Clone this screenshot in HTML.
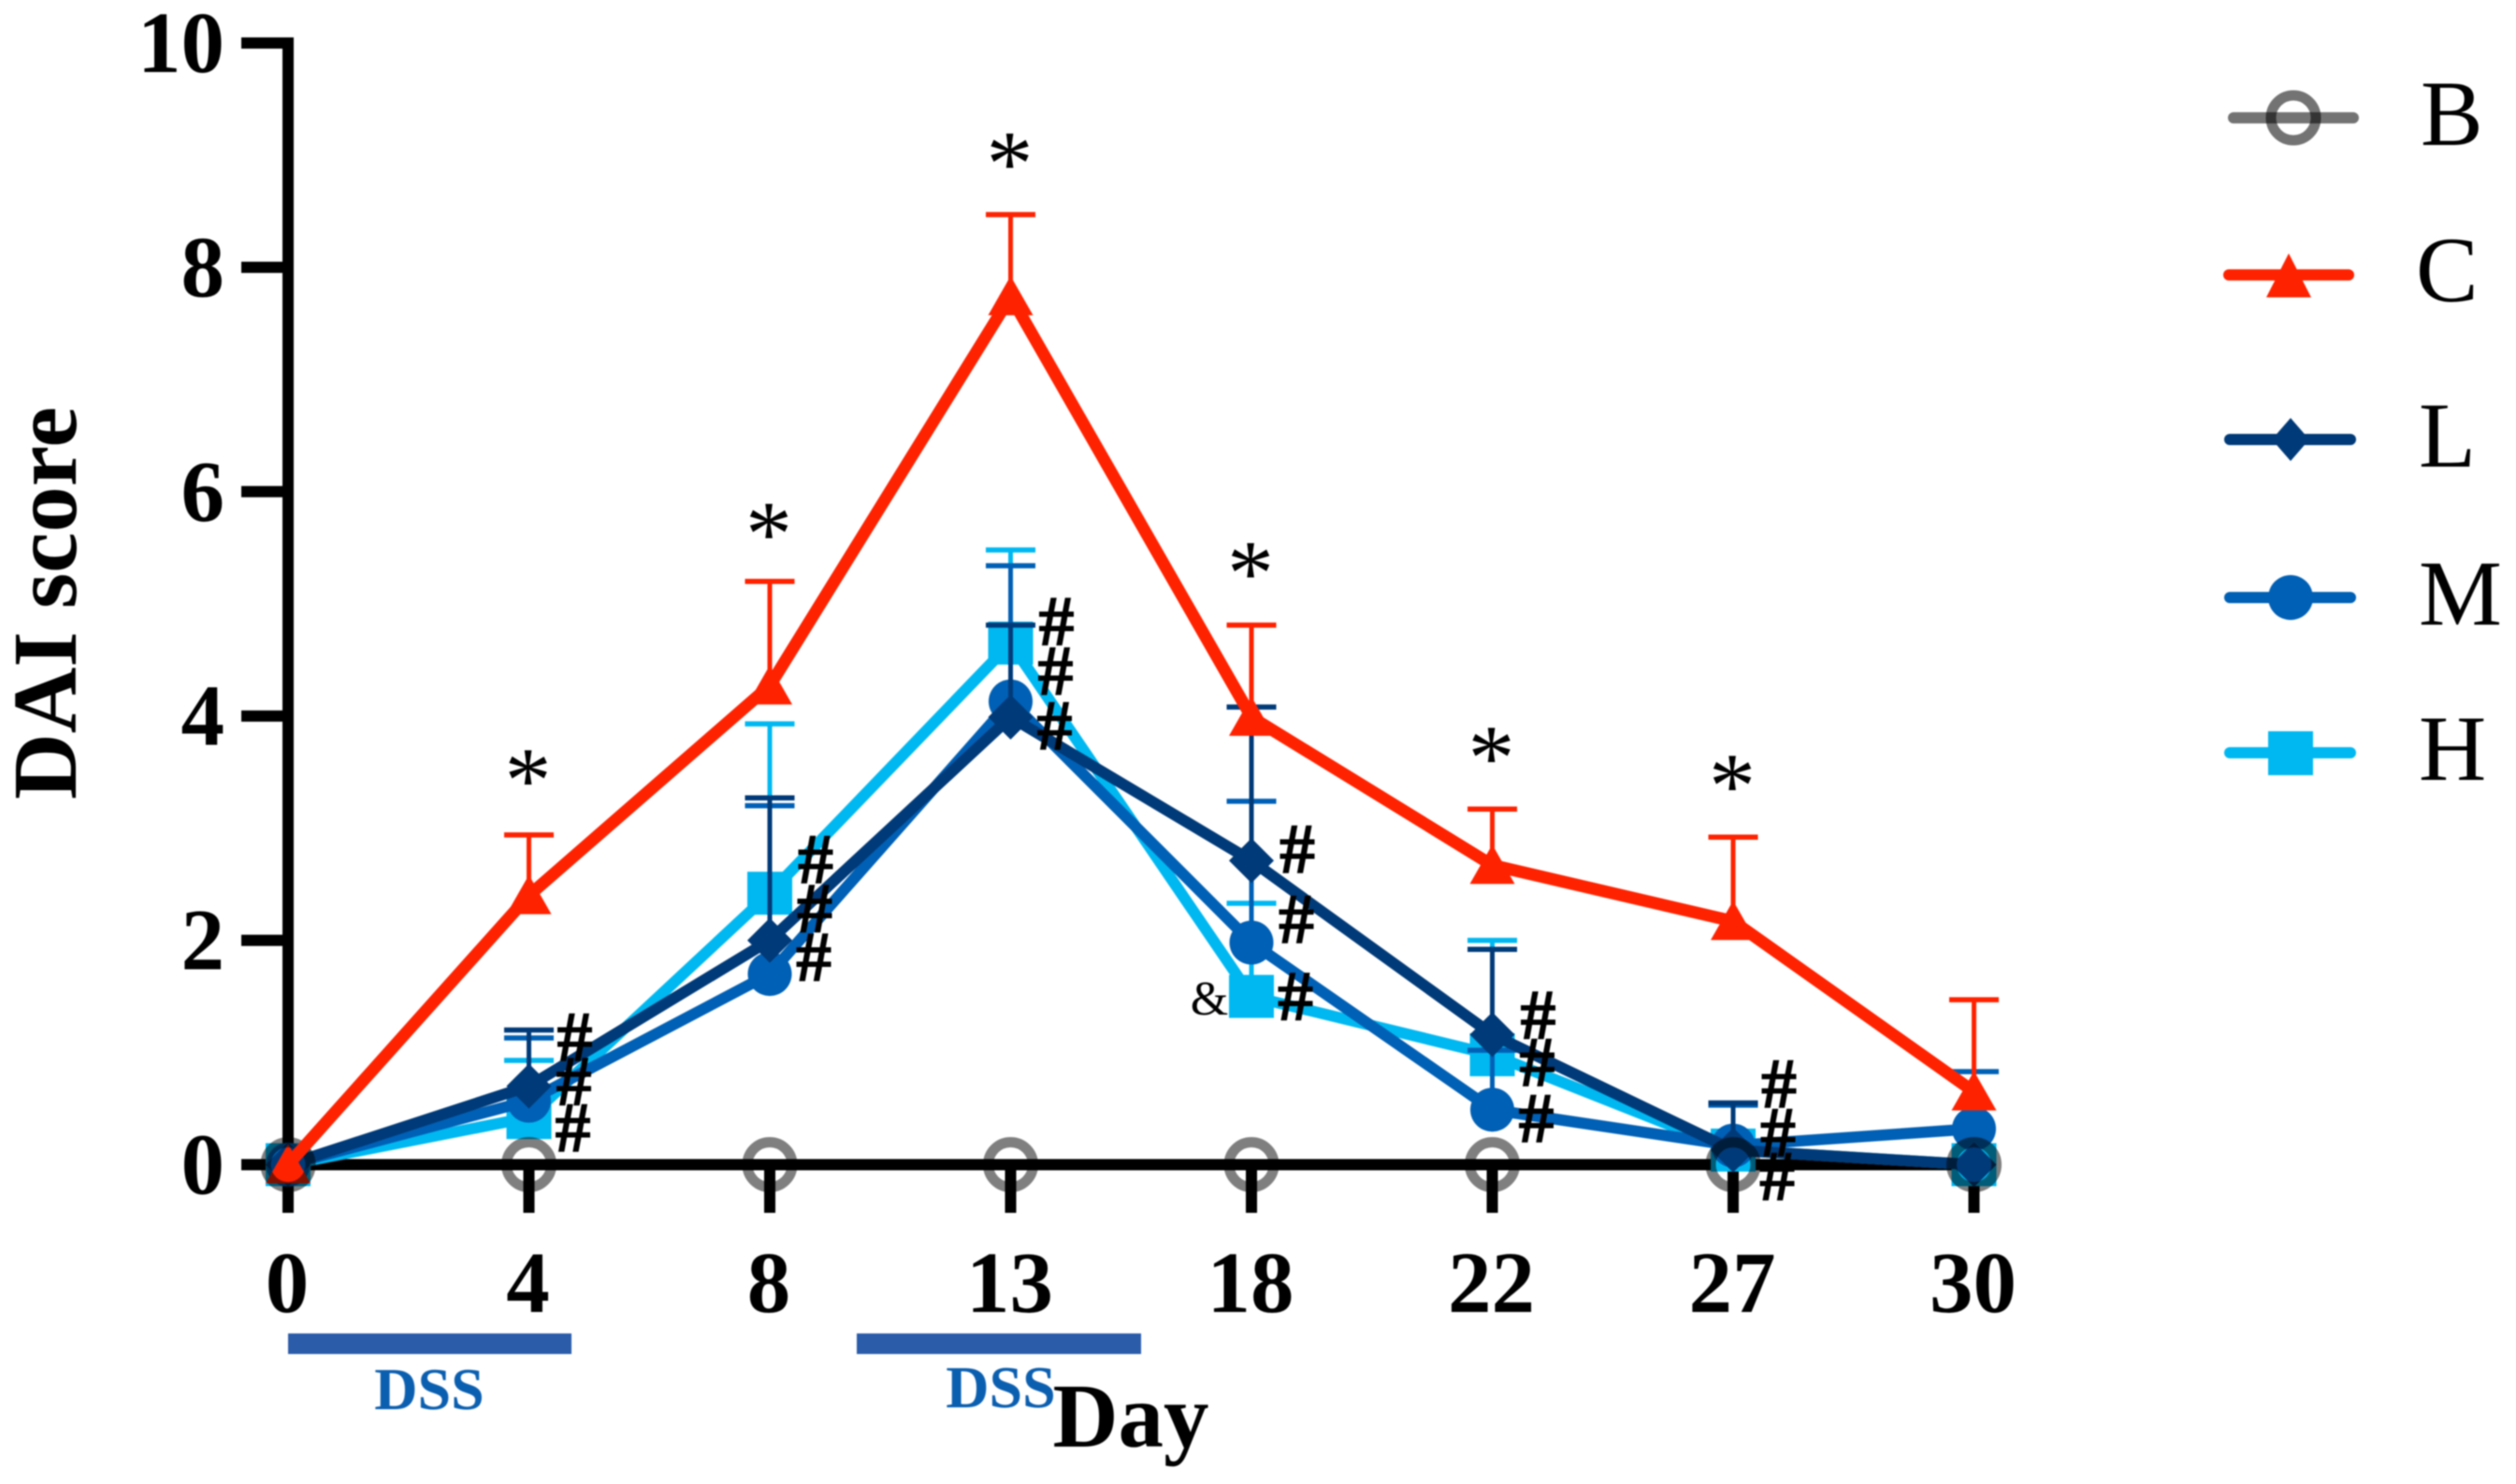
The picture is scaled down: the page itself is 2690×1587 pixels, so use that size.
<!DOCTYPE html>
<html lang="en">
<head>
<meta charset="utf-8">
<title>DAI score chart</title>
<style>
html,body{margin:0;padding:0;background:#fff;width:2690px;height:1587px;overflow:hidden}
svg{display:block;filter:blur(0.7px)}
text{font-family:"Liberation Serif","Times New Roman",serif}
</style>
</head>
<body>
<svg id="chart" xmlns="http://www.w3.org/2000/svg" width="2690" height="1587" viewBox="0 0 2690 1587">
  <rect x="0" y="0" width="2690" height="1587" fill="#ffffff"/>
  <g id="axes"></g>
  <g id="series"></g>
  <g id="annotations"></g>
  <text transform="translate(81 645) rotate(-90)" text-anchor="middle" font-size="98" font-weight="bold" fill="#000">DAI score</text>
  <text x="1209" y="1547" text-anchor="middle" font-size="97" font-weight="bold" fill="#000">Day</text>
  <rect x="308" y="1426" width="303" height="22" fill="#2a5caa"/>
  <rect x="916" y="1426" width="304" height="22" fill="#2a5caa"/>
  <text x="459" y="1507" text-anchor="middle" font-size="64" font-weight="bold" fill="#0b5fb0">DSS</text>
  <text x="1070" y="1505" text-anchor="middle" font-size="64" font-weight="bold" fill="#0b5fb0">DSS</text>
  <g>
    <g>
      <line x1="2388" y1="126" x2="2516" y2="126" stroke="#000" stroke-opacity="0.55" stroke-width="12" stroke-linecap="round"/>
      <circle cx="2452" cy="126" r="24" fill="none" stroke="#000" stroke-opacity="0.55" stroke-width="11"/>
      <text x="2588" y="155" font-size="100" fill="#000">B</text>
    </g>
    <g>
      <line x1="2383" y1="294" x2="2511" y2="294" stroke="#ff2200" stroke-width="12" stroke-linecap="round"/>
      <polygon points="2447,271 2471,318 2423,318" fill="#ff2200"/>
      <text x="2583" y="322" font-size="100" fill="#000">C</text>
    </g>
    <g>
      <line x1="2384" y1="470" x2="2513" y2="470" stroke="#003a78" stroke-width="12" stroke-linecap="round"/>
      <polygon points="2449,447 2469,470 2449,493 2429,470" fill="#003a78"/>
      <text x="2586" y="499" font-size="100" fill="#000">L</text>
    </g>
    <g>
      <line x1="2384" y1="639" x2="2513" y2="639" stroke="#0060b5" stroke-width="12" stroke-linecap="round"/>
      <circle cx="2449" cy="639" r="24" fill="#0060b5"/>
      <text x="2586" y="668" font-size="100" fill="#000">M</text>
    </g>
    <g>
      <line x1="2384" y1="805" x2="2513" y2="805" stroke="#00b8f1" stroke-width="12" stroke-linecap="round"/>
      <rect x="2425" y="782" width="48" height="47" fill="#00b8f1"/>
      <text x="2586" y="834" font-size="100" fill="#000">H</text>
    </g>
  </g>
</svg>
<script>
var dayLabels = ['0', '4', '8', '13', '18', '22', '27', '30'];
var yTickValues = [0, 2, 4, 6, 8, 10];

var valuesB = [0, 0, 0, 0, 0, 0, 0, 0];
var valuesC = [0, 2.4, 4.27, 7.74, 3.99, 2.67, 2.17, 0.65];
var valuesL = [0, 0.7, 2.0, 3.99, 2.71, 1.16, 0.13, 0];
var valuesM = [0, 0.57, 1.7, 4.13, 1.98, 0.49, 0.17, 0.32];
var valuesH = [0, 0.42, 2.42, 4.65, 1.5, 0.98, 0.13, 0];

var errTopC = [0, 2.94, 5.2, 8.47, 4.81, 3.17, 2.92, 1.47];
var errTopL = [0, 1.2, 3.27, 4.81, 4.08, 1.92, 0.55, 0];
var errTopM = [0, 1.13, 3.2, 5.34, 3.24, 1.02, 0.53, 0.83];
var errTopH = [0, 0.93, 3.93, 5.48, 2.33, 2.0, 0.2, 0];

var asteriskDays = ['4', '8', '13', '18', '22', '27'];
var asteriskLevels = [3.5, 5.7, 9.0, 5.35, 3.7, 3.45];

var hashDays = ['4', '8', '13', '18', '22', '27'];
var hashTopLevels = [1.125, 2.71, 4.83, 2.8, 1.32, 0.71];
var hashMidLevels = [0.73, 2.27, 4.39, 2.175, 0.9, 0.275];
var hashLowLevels = [0.317, 1.84, 3.9, 1.49, 0.4, -0.117];

var ampersandDay = '18';
var ampersandLevel = 1.49;

var NS = 'http://www.w3.org/2000/svg';
var axesG = document.getElementById('axes');
var seriesG = document.getElementById('series');
var annG = document.getElementById('annotations');

function xAt(i) { return 308 + i * 257.5; }
function xOfDay(d) { return xAt(dayLabels.indexOf(d)); }
function yAt(v) { return 1245.5 - v * 119.95; }

function make(tag, attrs, parent) {
  var el = document.createElementNS(NS, tag);
  for (var k in attrs) el.setAttribute(k, attrs[k]);
  parent.appendChild(el);
  return el;
}

/* axes */
var el;
el = make('line', {x1: 308, y1: yAt(10) - 6, x2: 308, y2: yAt(0), stroke: '#000', 'stroke-width': 12}, axesG);


el = make('line', {x1: 258, y1: yAt(0), x2: 2116, y2: yAt(0), stroke: '#000', 'stroke-width': 12}, axesG);



yTickValues.forEach(function (v) {
  var t = make('line', {x1: 258, y1: yAt(v), x2: 308, y2: yAt(v), stroke: '#000', 'stroke-width': 12}, axesG);
  
  
  var l = make('text', {x: 240, y: yAt(v) + 31, 'text-anchor': 'end', 'font-size': 93, 'font-weight': 'bold', fill: '#000'}, axesG);
  l.textContent = String(v);
  
  
});

dayLabels.forEach(function (d, i) {
  var t = make('line', {x1: xAt(i), y1: yAt(0), x2: xAt(i), y2: 1297, stroke: '#000', 'stroke-width': 12}, axesG);
  
  
  var l = make('text', {x: xAt(i) - 1, y: 1403, 'text-anchor': 'middle', 'font-size': 93, 'font-weight': 'bold', fill: '#000'}, axesG);
  l.textContent = d;
  
  
});

/* series helpers */
function drawErrors(values, tops, color, key) {
  values.forEach(function (v, i) {
    if (tops[i] <= v) return;
    var stem = make('line', {x1: xAt(i), y1: yAt(v), x2: xAt(i), y2: yAt(tops[i]), stroke: color, 'stroke-width': 5}, seriesG);
    
    
    var cap = make('line', {x1: xAt(i) - 26.5, y1: yAt(tops[i]), x2: xAt(i) + 26.5, y2: yAt(tops[i]), stroke: color, 'stroke-width': 5.5}, seriesG);
    
    
  });
}
function drawLine(values, color, key, width) {
  var pts = values.map(function (v, i) { return xAt(i) + ',' + yAt(v); }).join(' ');
  var p = make('polyline', {points: pts, fill: 'none', stroke: color, 'stroke-width': width, 'stroke-linejoin': 'miter', 'stroke-linecap': 'round'}, seriesG);
  
  
}
function drawMarkers(values, key, shapeFn) {
  values.forEach(function (v, i) {
    var m = shapeFn(xAt(i), yAt(v));
    
    
  });
}

/* H */
drawErrors(valuesH, errTopH, '#00b8f1', 'h');
drawLine(valuesH, '#00b8f1', 'h', 12);
drawMarkers(valuesH, 'h', function (x, y) {
  return make('rect', {x: x - 24, y: y - 23, width: 48, height: 46, fill: '#00b8f1'}, seriesG);
});
/* M */
drawErrors(valuesM, errTopM, '#0060b5', 'm');
drawLine(valuesM, '#0060b5', 'm', 12);
drawMarkers(valuesM, 'm', function (x, y) {
  return make('circle', {cx: x, cy: y, r: 23.5, fill: '#0060b5'}, seriesG);
});
/* L */
drawErrors(valuesL, errTopL, '#003a78', 'l');
drawLine(valuesL, '#003a78', 'l', 12);
drawMarkers(valuesL, 'l', function (x, y) {
  return make('polygon', {points: (x) + ',' + (y - 24) + ' ' + (x + 24) + ',' + y + ' ' + x + ',' + (y + 24) + ' ' + (x - 24) + ',' + y, fill: '#003a78'}, seriesG);
});
/* C markers and error bars */
drawErrors(valuesC, errTopC, '#ff2200', 'c');
drawMarkers(valuesC, 'c', function (x, y) {
  return make('polygon', {points: x + ',' + (y - 22) + ' ' + (x + 24) + ',' + (y + 20) + ' ' + (x - 24) + ',' + (y + 20), fill: '#ff2200'}, seriesG);
});
/* B */
drawMarkers(valuesB, 'b', function (x, y) {
  return make('circle', {cx: x, cy: y, r: 24, fill: 'none', stroke: '#000', 'stroke-opacity': 0.5, 'stroke-width': 11}, seriesG);
});
/* C line */
drawLine(valuesC, '#ff2200', 'c', 13);

/* significance marks */
asteriskDays.forEach(function (d, i) {
  var t = make('text', {x: xOfDay(d) - 1, y: yAt(asteriskLevels[i]) + 42, 'text-anchor': 'middle', 'font-size': 100, fill: '#000'}, annG);
  t.textContent = '*';
  
  
});
function drawHashes(levels, key, dx) {
  hashDays.forEach(function (d, i) {
    var t = make('text', {x: xOfDay(d) + dx, y: yAt(levels[i]) + 24, 'text-anchor': 'middle', 'font-size': 76, 'font-weight': 'bold', stroke: '#000', 'stroke-width': 1, fill: '#000'}, annG);
    t.textContent = '#';
    
    
  });
}
drawHashes(hashTopLevels, 'top', 49);
drawHashes(hashMidLevels, 'mid', 48);
drawHashes(hashLowLevels, 'low', 47);

el = make('text', {x: xOfDay(ampersandDay) - 45, y: yAt(ampersandLevel) + 18, 'text-anchor': 'middle', 'font-size': 52, fill: '#000'}, annG);
el.textContent = '&';


</script>
</body>
</html>
